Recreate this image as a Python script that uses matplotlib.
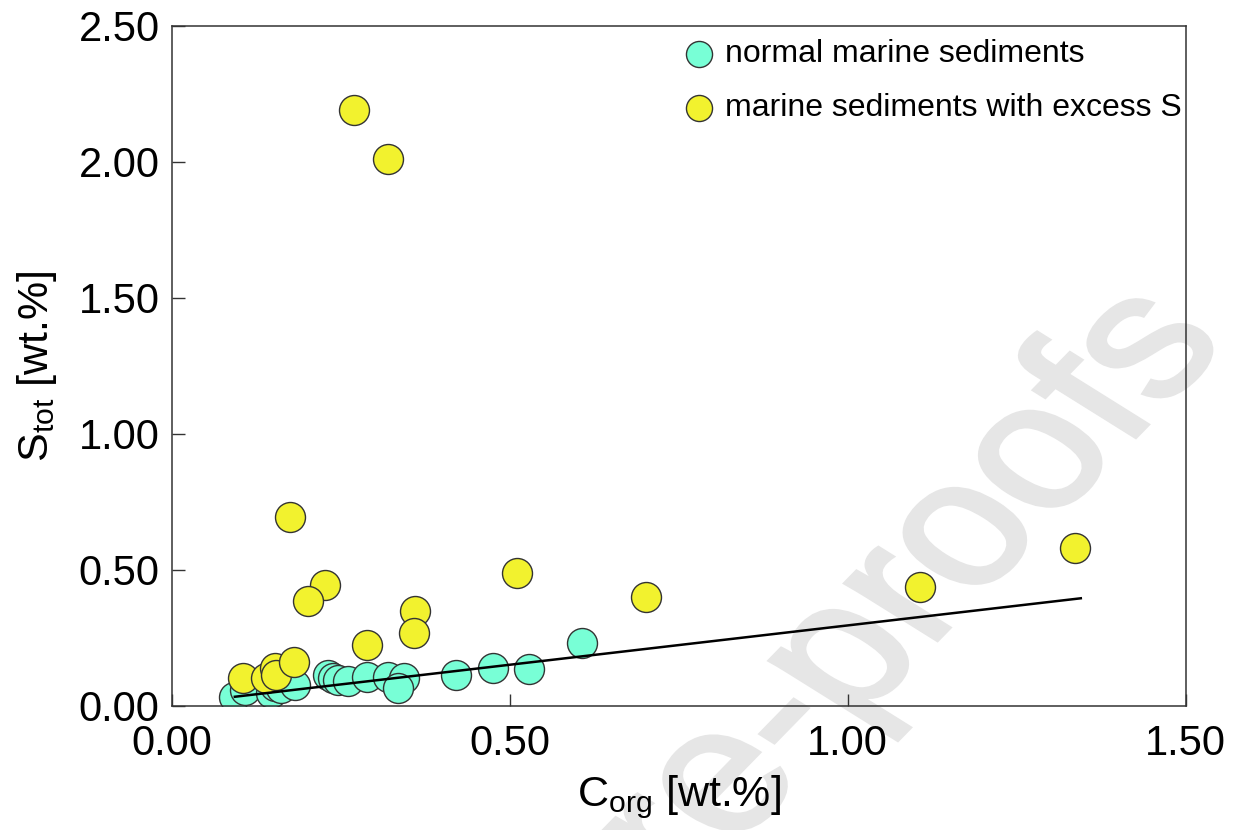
import matplotlib
matplotlib.use('Agg')
import matplotlib.pyplot as plt
from matplotlib.textpath import TextPath
from matplotlib.patches import PathPatch
from matplotlib.transforms import Affine2D
from matplotlib.font_manager import FontProperties

# normal marine sediments (C_org, S_tot) in wt.%
normal_c = [0.092, 0.108, 0.147, 0.153, 0.162, 0.182, 0.231, 0.239, 0.246, 0.261,
            0.288, 0.320, 0.343, 0.335, 0.420, 0.475, 0.528, 0.607]
normal_s = [0.032, 0.059, 0.047, 0.072, 0.066, 0.077, 0.114, 0.103, 0.096, 0.092,
            0.108, 0.108, 0.102, 0.068, 0.113, 0.139, 0.136, 0.232]

# marine sediments with excess S
excess_c = [0.269, 0.320, 0.175, 0.226, 0.202, 0.360, 0.358, 0.289, 0.510, 0.702,
            1.107, 1.337, 0.105, 0.139, 0.153, 0.154, 0.181]
excess_s = [2.19, 2.01, 0.695, 0.445, 0.386, 0.35, 0.268, 0.224, 0.49, 0.40,
            0.437, 0.58, 0.103, 0.103, 0.14, 0.114, 0.162]

# regression line end points
fit_c = [0.093, 1.345]
fit_s = [0.034, 0.396]

xticks = [0.0, 0.5, 1.0, 1.5]
yticks = [0.0, 0.5, 1.0, 1.5, 2.0, 2.5]

plt.rcParams['font.family'] = ['Liberation Sans', 'DejaVu Sans']
plt.rcParams['mathtext.fontset'] = 'custom'
plt.rcParams['mathtext.rm'] = 'Liberation Sans'

fig = plt.figure(figsize=(12.33, 8.30), dpi=100)
ax = fig.add_axes([0.1395, 0.1494, 0.822, 0.8193])
ax.patch.set_visible(False)

# watermark of the source page (slightly squashed vertically, like the page)
em = 220
wm = TextPath((0, 0), 'Journal Pre-proofs', size=em,
              prop=FontProperties(family='Liberation Sans'))
ext = wm.get_extents()
cx, cy = ext.x1 - 0.23 * em, 0.26 * em
tr = (Affine2D().translate(-cx, -cy).rotate_deg(52).scale(1, 0.8)
      .translate(1148, 830 - 350))
fig.add_artist(PathPatch(wm, transform=tr, facecolor='#e6e6e6',
                         edgecolor='#e6e6e6', linewidth=3, zorder=-1))

ax.scatter(normal_c, normal_s, s=466, c='#78FFD6', edgecolors='#333333',
           linewidths=1.0, zorder=2, label='normal marine sediments')
ax.scatter(excess_c, excess_s, s=466, c='#F2F22E', edgecolors='#333333',
           linewidths=1.0, zorder=3, label='marine sediments with excess S')
ax.plot(fit_c, fit_s, color='black', lw=1.8, zorder=4)

ax.set_xlim(0, 1.5)
ax.set_ylim(0, 2.5)
ax.set_xticks(xticks)
ax.set_yticks(yticks)
ax.set_xticklabels(['%.2f' % v for v in xticks])
ax.set_yticklabels(['%.2f' % v for v in yticks])
ax.tick_params(direction='in', length=9, width=1.0, labelsize=30, pad=9,
               color='#333333')
ax.tick_params(axis='x', pad=13)
for sp in ax.spines.values():
    sp.set_linewidth(1.1)
    sp.set_color('#333333')

ax.set_xlabel(r'C$_{\rm org}$ [wt.%]', fontsize=31, labelpad=7)
ax.set_ylabel(r'S$_{\rm tot}$ [wt.%]', fontsize=31, labelpad=14)

ax.legend(loc='upper right', bbox_to_anchor=(1.018, 1.013), frameon=False,
          fontsize=23, markerscale=0.87, handlelength=1.0, handletextpad=0.3,
          borderaxespad=0.3, labelspacing=0.75)

fig.savefig('out.png', dpi=100)
